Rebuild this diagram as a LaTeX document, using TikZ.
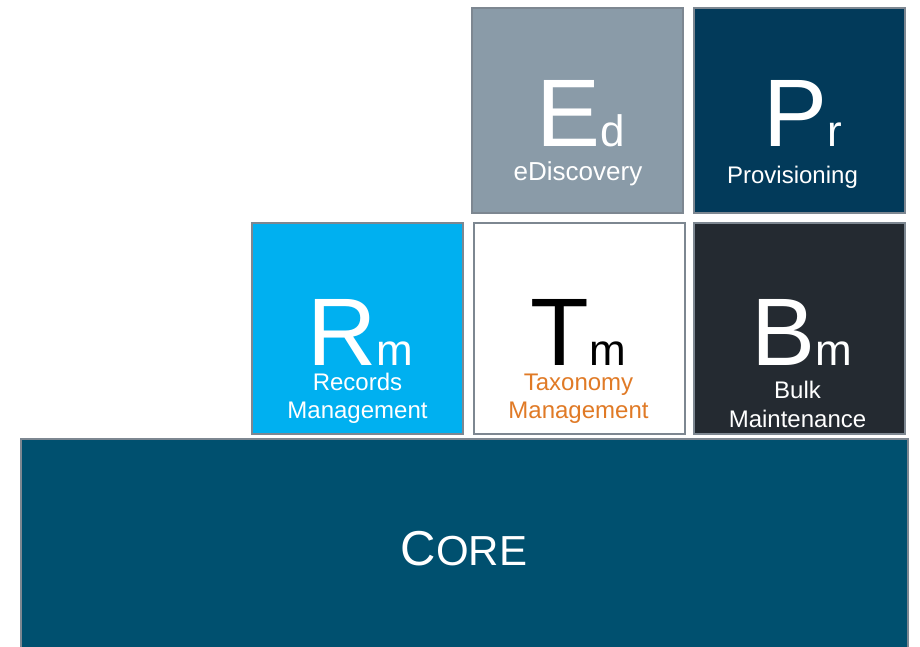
\documentclass[tikz,border=0pt]{standalone}
\usepackage{fontspec}
\setmainfont{Liberation Sans}
\definecolor{bordergray}{HTML}{7D8791}
\definecolor{edfill}{HTML}{8A9BA8}
\definecolor{prfill}{HTML}{023A5A}
\definecolor{rmfill}{HTML}{00B0F0}
\definecolor{bmfill}{HTML}{242A31}
\definecolor{corefill}{HTML}{00506F}
\definecolor{orangetxt}{HTML}{E07A26}
\begin{document}
\begin{tikzpicture}[x=1pt,y=-1pt,
  tile/.style={draw=bordergray, line width=2pt, inner sep=0pt, outer sep=0pt, minimum width=211pt},
  toptile/.style={tile, minimum height=205pt},
  midtile/.style={tile, minimum height=211pt},
  bigsym/.style={inner sep=0pt, anchor=base},
  lbl/.style={inner sep=0pt, anchor=base, font=\fontsize{24}{24}\selectfont}]
\useasboundingbox (0,0) rectangle (920,647);
\clip (0,0) rectangle (920,647);
% tiles
\node[toptile, fill=edfill] (ed) at (577.5,110.5) {};
\node[toptile, fill=prfill] (pr) at (799,110.5) {};
\node[midtile, fill=rmfill] (rm) at (357.5,328.5) {};
\node[midtile, fill=white] (tm) at (579,328.5) {};
\node[midtile, fill=bmfill] (bm) at (799,328.5) {};
\node[tile, fill=corefill, minimum width=887pt, minimum height=222pt] (core) at (464.5,550) {};
% symbols
\node[bigsym, text=white] (edsym) at (581,147) {\fontsize{96}{96}\selectfont E\fontsize{44}{44}\selectfont d};
\node[bigsym, text=white] (prsym) at (802.5,147) {\fontsize{96}{96}\selectfont P\fontsize{44}{44}\selectfont r};
\node[bigsym, text=white] (rmsym) at (360.5,365) {\fontsize{96}{96}\selectfont R\fontsize{44}{44}\selectfont m};
\node[bigsym, text=black] (tmsym) at (578,365) {\fontsize{96}{96}\selectfont T\fontsize{44}{44}\selectfont m};
\node[bigsym, text=white] (bmsym) at (801.5,365) {\fontsize{96}{96}\selectfont B\fontsize{44}{44}\selectfont m};
% labels
\node[lbl, text=white, font=\fontsize{26}{26}\selectfont] (edlbl) at (578,180) {eDiscovery};
\node[lbl, text=white] (prlbl) at (792.5,183) {Provisioning};
\node[lbl, text=white] (rmlbla) at (357.5,390) {Records};
\node[lbl, text=white] (rmlblb) at (357.5,418) {Management};
\node[lbl, text=orangetxt] (tmlbla) at (578.5,390) {Taxonomy};
\node[lbl, text=orangetxt] (tmlblb) at (578.5,418) {Management};
\node[lbl, text=white] (bmlbla) at (797.5,398) {Bulk};
\node[lbl, text=white] (bmlblb) at (797.5,427) {Maintenance};
\node[bigsym, text=white] (corelbl) at (464,565) {\fontsize{49}{49}\selectfont C\fontsize{42}{42}\selectfont ORE};
\end{tikzpicture}
\end{document}
